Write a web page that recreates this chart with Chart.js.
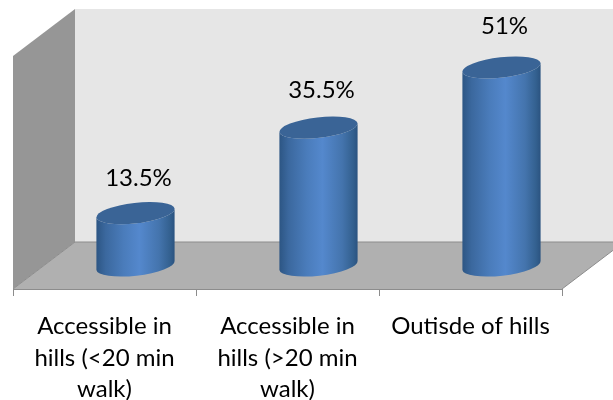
<!DOCTYPE html>
<html>
<head>
<meta charset="utf-8">
<script src="https://cdn.jsdelivr.net/npm/chart.js@4/dist/chart.umd.js"></script>
<style>
  html, body { margin: 0; padding: 0; background: #fff; }
  #box { position: relative; width: 613px; height: 400px; }
</style>
</head>
<body>
<div id="box"><canvas id="grafico"></canvas></div>
<script>
const categorias = [
  ['Accessible in', 'hills (<20 min', 'walk)'],
  ['Accessible in', 'hills (>20 min', 'walk)'],
  ['Outisde of hills']
];
const valores = [13.5, 35.5, 51];
const rotulos = ['13.5%', '35.5%', '51%'];

const FONTE = 'Lato, "Open Sans", sans-serif';
// profundidade da caixa 3D, em pixels
const prof = { x: 62, y: 47 };
const inclinacao = -6.5 * Math.PI / 180;
const semiMenor = 10.2;

// barra desenhada como cilindro, a meio da profundidade da caixa
class CilindroElement extends Chart.BarElement {
  draw(ctx) {
    const { x, y, base, width } = this.getProps(['x', 'y', 'base', 'width'], true);
    const cx = x + prof.x / 2;
    const topo = y - prof.y / 2;
    const fundo = base - prof.y / 2;
    const a = width / 2;

    const grad = ctx.createLinearGradient(cx - a, 0, cx + a, 0);
    grad.addColorStop(0, '#2c5583');
    grad.addColorStop(0.12, '#3b689e');
    grad.addColorStop(0.35, '#4a7cbb');
    grad.addColorStop(0.55, '#5488cd');
    grad.addColorStop(0.8, '#4474ad');
    grad.addColorStop(0.94, '#33608f');
    grad.addColorStop(1, '#2a527f');

    ctx.save();
    ctx.beginPath();
    ctx.ellipse(cx, fundo, a, semiMenor, inclinacao, 0, Math.PI);
    ctx.ellipse(cx, topo, a, semiMenor, inclinacao, Math.PI, 0, true);
    ctx.closePath();
    ctx.fillStyle = grad;
    ctx.fill();

    ctx.beginPath();
    ctx.ellipse(cx, topo, a, semiMenor, inclinacao, 0, Math.PI * 2);
    ctx.fillStyle = '#3a6496';
    ctx.fill();
    ctx.restore();
  }
}
CilindroElement.id = 'cilindro';
CilindroElement.defaults = Chart.BarElement.defaults;

class CilindroController extends Chart.BarController {}
CilindroController.id = 'cilindroBar';
CilindroController.defaults = { ...Chart.BarController.defaults, dataElementType: 'cilindro' };
CilindroController.overrides = Chart.BarController.overrides;

Chart.register(CilindroElement, CilindroController);

// paredes e chão atrás das barras
const caixa3d = {
  id: 'caixa3d',
  beforeDatasetsDraw(chart) {
    const { ctx, chartArea: { left, right, top, bottom } } = chart;
    const poly = (pts, cor) => {
      ctx.beginPath();
      pts.forEach((p, i) => i ? ctx.lineTo(p[0], p[1]) : ctx.moveTo(p[0], p[1]));
      ctx.closePath();
      ctx.fillStyle = cor;
      ctx.fill();
    };
    ctx.save();
    poly([[left + prof.x, top - prof.y], [right + prof.x, top - prof.y],
          [right + prof.x, bottom - prof.y], [left + prof.x, bottom - prof.y]], '#e6e6e6');
    poly([[left, top], [left + prof.x, top - prof.y],
          [left + prof.x, bottom - prof.y], [left, bottom]], '#969696');
    poly([[left, bottom], [left + prof.x, bottom - prof.y],
          [right + prof.x, bottom - prof.y], [right, bottom]], '#b0b0b0');

    // contorno do chão
    ctx.beginPath();
    ctx.moveTo(left, bottom);
    ctx.lineTo(left + prof.x, bottom - prof.y);
    ctx.lineTo(right + prof.x, bottom - prof.y);
    ctx.lineTo(right, bottom);
    ctx.strokeStyle = '#8c8c8c';
    ctx.lineWidth = 1;
    ctx.stroke();
    ctx.restore();
  }
};

// rótulos de valor por cima de cada cilindro
const rotulosValor = {
  id: 'rotulosValor',
  afterDatasetsDraw(chart, args, opts) {
    const { ctx } = chart;
    ctx.save();
    ctx.font = opts.fonte;
    ctx.fillStyle = '#000';
    ctx.textAlign = 'center';
    ctx.textBaseline = 'middle';
    chart.getDatasetMeta(0).data.forEach((el, i) => {
      ctx.fillText(rotulos[i], el.x + prof.x / 2 + 3, el.y - prof.y / 2 - opts.folga[i]);
    });
    ctx.restore();
  }
};

new Chart(document.getElementById('grafico'), {
  type: 'cilindroBar',
  data: {
    labels: categorias,
    datasets: [{
      data: valores,
      categoryPercentage: 1,
      barPercentage: 0.43
    }]
  },
  options: {
    responsive: true,
    maintainAspectRatio: false,
    animation: false,
    layout: { padding: { left: 13, right: 51, top: 56, bottom: 0 } },
    scales: {
      x: {
        afterFit(scale) { scale.height = 111; },
        border: { color: '#8c8c8c' },
        grid: { offset: true, drawOnChartArea: false, tickLength: 7, color: '#8c8c8c' },
        ticks: {
          autoSkip: false,
          maxRotation: 0,
          padding: 15,
          color: '#000',
          font: { family: FONTE, size: 24, lineHeight: 1.3 }
        }
      },
      y: { display: false, min: 0, max: 60 }
    },
    plugins: {
      legend: { display: false },
      tooltip: { enabled: false },
      rotulosValor: { fonte: '24px ' + FONTE, folga: [35, 37, 41] }
    }
  },
  plugins: [caixa3d, rotulosValor]
});
</script>
</body>
</html>
